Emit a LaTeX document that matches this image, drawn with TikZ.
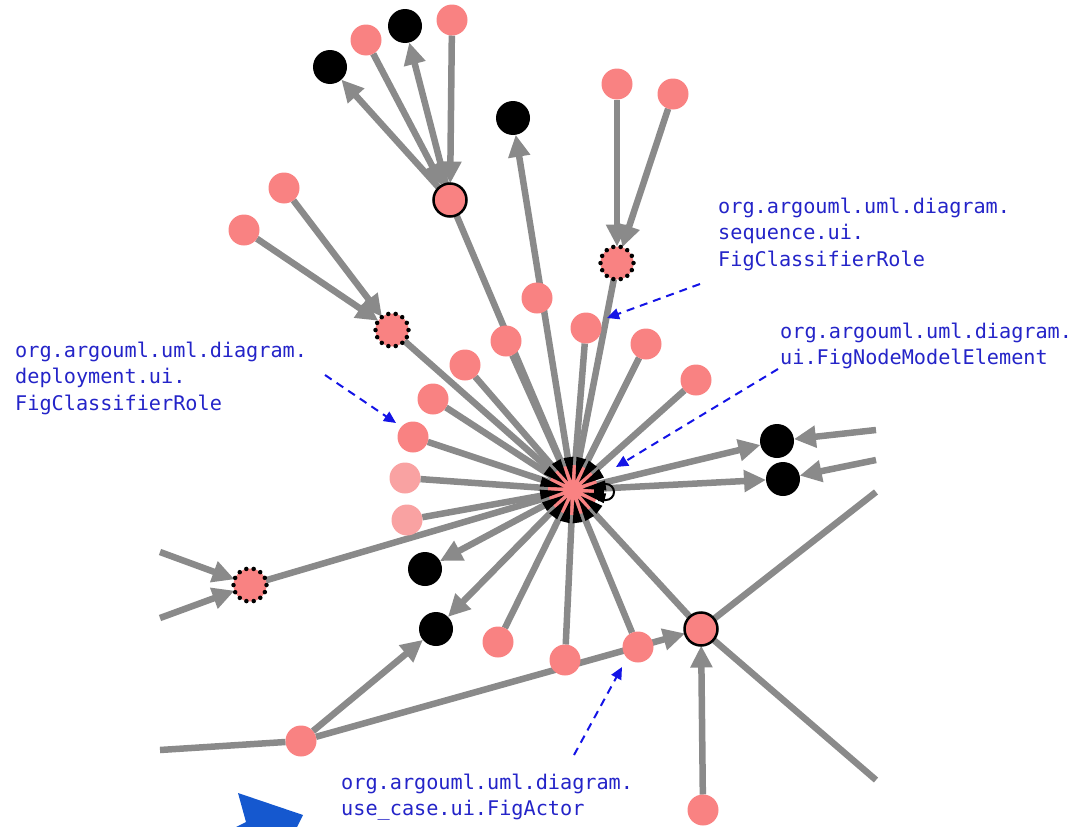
\documentclass[tikz,border=0pt]{standalone}
\usepackage{fontspec}
\usetikzlibrary{arrows.meta}
\newfontfamily\monofam{DejaVu Sans Mono}
\definecolor{pinkc}{HTML}{F98282}
\definecolor{lpinkc}{HTML}{F9A2A2}
\definecolor{edgec}{HTML}{8A8A8A}
\definecolor{labelc}{HTML}{2424C8}
\definecolor{dashc}{HTML}{1414E6}
\definecolor{bigblue}{HTML}{1558CF}
\pgfdeclarelayer{background}
\pgfsetlayers{background,main}
\tikzset{
  pk/.style={circle, fill=pinkc, minimum size=31pt, inner sep=0pt, outer sep=0pt},
  lp/.style={pk, fill=lpinkc},
  bk/.style={circle, fill=black, minimum size=34pt, inner sep=0pt, outer sep=0pt},
  ringn/.style={circle, fill=pinkc, draw=black, line width=2.5pt, minimum size=33pt, inner sep=0pt, outer sep=0pt},
  dotn/.style={circle, fill=pinkc, draw=black, line width=4.5pt, dash pattern=on 0pt off 7.4pt, line cap=round, minimum size=33pt, inner sep=0pt, outer sep=0pt},
  edge/.style={draw=edgec, line width=6.5pt},
  arr/.style={edge, -{Triangle[length=22pt,width=21pt]}},
  hubin/.style={edge, shorten >=22pt},
  hubout/.style={arr, shorten <=24pt},
  wedge/.style={fill=black},
  lbl/.style={font=\monofam\fontsize{20.2}{26}\selectfont, text=labelc, inner sep=0pt, anchor=base west},
  pointer/.style={draw=dashc, line width=2pt, dash pattern=on 8pt off 6pt, -{Triangle[length=12pt,width=11pt]}}
}
\begin{document}
\begin{tikzpicture}[x=1pt,y=-1pt]
\useasboundingbox (0,0) rectangle (1077,827);
% nodes
\node[bk] (b1) at (330,67) {};
\node[pk] (p1) at (366,40) {};
\node[bk] (b2) at (405,26) {};
\node[pk] (p2) at (452,20) {};
\node[ringn] (n1) at (450,200) {};
\node[bk] (b3) at (513,118) {};
\node[pk] (p3) at (617,84) {};
\node[pk] (p4) at (673,94) {};
\node[dotn] (d1) at (617,263) {};
\node[pk] (p5) at (537,298) {};
\node[pk] (p6) at (586,328) {};
\node[pk] (p7) at (506,341) {};
\node[pk] (p8) at (465,365) {};
\node[pk] (p9) at (433,399) {};
\node[pk] (p10) at (413,437) {};
\node[lp] (p11) at (405,478) {};
\node[lp] (p12) at (407,520) {};
\node[dotn] (d2) at (392,330) {};
\node[pk] (p13) at (284,188) {};
\node[pk] (p14) at (244,230) {};
\node[pk] (p15) at (646,344) {};
\node[pk] (p16) at (696,380) {};
\node[bk] (b4) at (777,441) {};
\node[bk] (b5) at (783,479) {};
\node[ringn] (n2) at (701,629) {};
\node[pk] (p17) at (703,810) {};
\node[pk] (p18) at (638,647) {};
\node[pk] (p19) at (565,660) {};
\node[pk] (p20) at (498,642) {};
\node[bk] (b6) at (436,629) {};
\node[bk] (b7) at (425,569) {};
\node[pk] (p21) at (301,741) {};
\node[dotn] (d3) at (250,585) {};
\coordinate (h) at (573,490);
\coordinate (r1) at (876,430);
\coordinate (r2) at (876,460);
\coordinate (r3) at (876,492);
\coordinate (r4) at (876,780);
\coordinate (l1) at (160,552);
\coordinate (l2) at (160,618);
\coordinate (l3) at (160,750);
% edges
\begin{pgfonlayer}{background}
\draw[arr] (n1) -- (b1);
\draw[arr] (p1) -- (n1);
\draw[arr] (n1) -- (b2);
\draw[arr] (p2) -- (n1);
\draw[arr] (p3) -- (d1);
\draw[arr] (p4) -- (d1);
\draw[arr] (p13) -- (d2);
\draw[arr] (p14) -- (d2);
\draw[arr] (r1) -- (b4);
\draw[arr] (r2) -- (b5);
\draw[arr] (p21) -- (b6);
\draw[arr] (p21) -- (n2);
\draw[arr] (p17) -- (n2);
\draw[arr] (l1) -- (d3);
\draw[arr] (l2) -- (d3);
\draw[edge] (n2) -- (r3);
\draw[edge] (n2) -- (r4);
\draw[edge] (l3) -- (p21);
\draw[hubout] (h) -- (b3);
\draw[hubout] (h) -- (b4);
\draw[hubout] (h) -- (b5);
\draw[hubout] (h) -- (b6);
\draw[hubout] (h) -- (b7);
\foreach \n in {n1,d1,p6,p7,p8,d2,p9,p10,p11,p12,p15,p16,n2,p18,p19,p20,d3}
  \draw[hubin] (\n) -- (h);
\end{pgfonlayer}
% hub: pink centre with black inward wedges
\fill[pinkc] (h) circle (25pt);
\foreach \a in {0,22.5,...,337.5}
  \fill[wedge, rotate around={\a+8:(h)}] (606,485) -- (606,495) -- (583,490) -- cycle;
% self loop mark at the hub
\draw[black, line width=2pt] (598,484) -- (606,484) arc[start angle=90, end angle=-90, radius=8pt] -- (598,500);
\fill[black] (594,486) rectangle (604,498);
% labels
\node[lbl] (s1) at (718,213) {org.argouml.uml.diagram.};
\node[lbl] (s2) at (718,239.5) {sequence.ui.};
\node[lbl] (s3) at (718,266) {FigClassifierRole};
\node[lbl] (u1) at (780,338) {org.argouml.uml.diagram.};
\node[lbl] (u2) at (780,364.5) {ui.FigNodeModelElement};
\node[lbl] (e1) at (15,357) {org.argouml.uml.diagram.};
\node[lbl] (e2) at (15,383.5) {deployment.ui.};
\node[lbl] (e3) at (15,410) {FigClassifierRole};
\node[lbl] (c1) at (341,789) {org.argouml.uml.diagram.};
\node[lbl] (c2) at (341,815.5) {use\_case.ui.FigActor};
% pointers
\coordinate (q1) at (700,284);
\coordinate (q1t) at (607,318);
\coordinate (q2) at (778,369);
\coordinate (q2t) at (616,467);
\coordinate (q3) at (325,375);
\coordinate (q3t) at (396,423);
\coordinate (q4) at (574,755);
\coordinate (q4t) at (622,667);
\draw[pointer] (q1) -- (q1t);
\draw[pointer] (q2) -- (q2t);
\draw[pointer] (q3) -- (q3t);
\draw[pointer] (q4) -- (q4t);
% big blue shape
\fill[bigblue] (238,793) -- (303,815) -- (297,827) -- (236,827) -- (246,822) -- cycle;
\end{tikzpicture}
\end{document}
